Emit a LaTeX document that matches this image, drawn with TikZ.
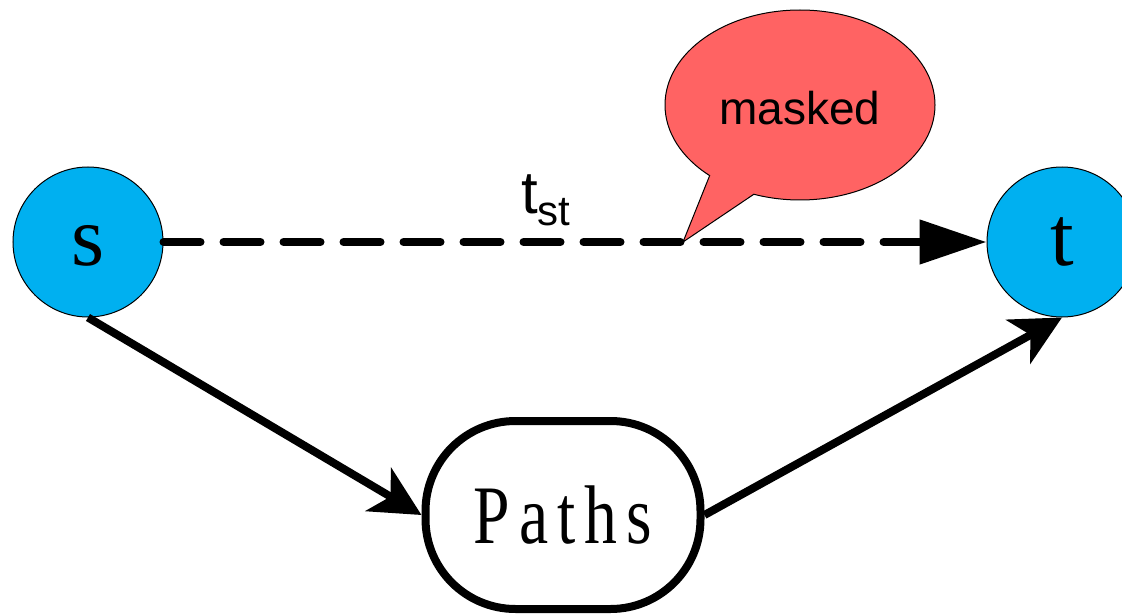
\documentclass[tikz,border=0pt]{standalone}
\usepackage{fontspec}
\setmainfont{Liberation Serif}
\newfontfamily\arialfont{Liberation Sans}
\usetikzlibrary{arrows.meta,shapes.callouts,shapes.geometric}
\definecolor{nodeblue}{HTML}{00B0F0}
\definecolor{calloutred}{HTML}{FF6363}
\begin{document}
\begin{tikzpicture}[x=1pt,y=-1pt,
  vertex/.style={circle,draw=black,line width=1pt,fill=nodeblue,minimum size=150pt,inner sep=0pt,
    font=\fontsize{85}{85}\selectfont},
  pathbox/.style={rectangle,draw=black,line width=8pt,rounded corners=90pt,fill=white,
    minimum width=275pt,minimum height=188pt,inner sep=0pt,
    font=\fontsize{80}{80}\selectfont\addfontfeature{LetterSpace=14}},
  edge/.style={line width=8pt,draw=black},
  dashedge/.style={line width=8pt,draw=black,dash pattern=on 37pt off 23pt,line cap=round},
  bubble/.style={ellipse callout,draw=black,line width=1pt,fill=calloutred,
    minimum width=270pt,minimum height=190pt,inner sep=0pt,callout pointer arc=22,
    font=\arialfont\fontsize{46}{46}\selectfont,text height=40pt},
  lbl/.style={font=\arialfont\fontsize{60}{60}\selectfont,inner sep=0pt}
]
\useasboundingbox (0,0) rectangle (1122,615);
\node[vertex,text height=48pt] (s) at (88,242) {s};
\node[vertex] (t) at (1062,242) {t};
\node[pathbox] (p) at (563,515) {\scalebox{0.82}[1.04]{Paths}};
\coordinate (ptr) at (683,242);
\draw[dashedge,-{Triangle[length=67pt,width=43pt]}] (s.east) -- (t.west);
\node[bubble,callout absolute pointer={(ptr)}] (m) at (800,105) {masked};
\node[lbl,anchor=base west] (tst) at (521,213) {t\raisebox{-12pt}{\fontsize{42}{42}\selectfont st}};
\draw[edge,-{Stealth[length=50pt,width=50pt,inset=14pt]}] (s.south) -- (p.west);
\draw[edge,-{Stealth[length=50pt,width=50pt,inset=14pt]}] (p.east) -- (t.south);
\end{tikzpicture}
\end{document}
